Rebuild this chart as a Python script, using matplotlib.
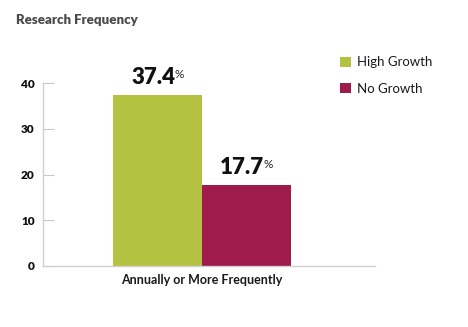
import matplotlib.pyplot as plt
import numpy as np

plt.rcParams['font.family'] = ['Lato', 'DejaVu Sans']

category = 'Annually or More Frequently'
series = ['High Growth', 'No Growth']
values = [37.4, 17.7]
colors = ['#b5c141', '#9e1b4c']
yticks = [0, 10, 20, 30, 40]

fig = plt.figure(figsize=(4.68, 3.27), dpi=100)
ax = fig.add_axes([43 / 468, 61 / 327, 332 / 468, 183 / 327])

width = 0.4
offsets = [-width / 2, width / 2]
for off, v, c, name in zip(offsets, values, colors, series):
    ax.bar(off, v, width=width, color=c, label=name)
    # value label with a small raised percent sign
    t = ax.annotate(f'{v:.1f}', xy=(off - 0.02, v), xytext=(0, 5), textcoords='offset points',
                    ha='center', va='bottom', fontsize=16, fontweight='heavy', color='#111111')
    ax.annotate('%', xy=(1, 1), xycoords=t, xytext=(-0.5, -1.5), textcoords='offset points',
                ha='left', va='top', fontsize=8.5, color='#222222')

ax.set_xlim(-0.715, 0.778)
ax.set_ylim(0, 40)
ax.set_yticks(yticks)
ax.set_xticks([0])
ax.set_xticklabels([category], fontsize=9, fontweight='bold', color='#1a1a1a')
ax.tick_params(axis='x', length=0, pad=6)
ax.tick_params(axis='y', direction='in', length=8, width=0.8, color='#c8c8c8',
               pad=6, labelsize=8.5, labelcolor='#111111')
for lab in ax.get_yticklabels():
    lab.set_fontweight('heavy')

for side in ['top', 'right']:
    ax.spines[side].set_visible(False)
for side in ['left', 'bottom']:
    ax.spines[side].set_color('#d0d0d0')
    ax.spines[side].set_linewidth(1.0)

fig.text(16 / 468, 1 - 20 / 327, 'Research Frequency', fontsize=9.5, fontweight='heavy',
         color='#4a4a4a', ha='left', va='center')

leg = fig.legend(loc='upper left', bbox_to_anchor=(335 / 468, 1 - 51 / 327), frameon=False,
                 fontsize=9.5, handlelength=0.8, handleheight=0.8, handletextpad=0.45,
                 labelspacing=1.1, borderaxespad=0)
for txt in leg.get_texts():
    txt.set_color('#1a1a1a')

fig.savefig('out.png', dpi=100)
